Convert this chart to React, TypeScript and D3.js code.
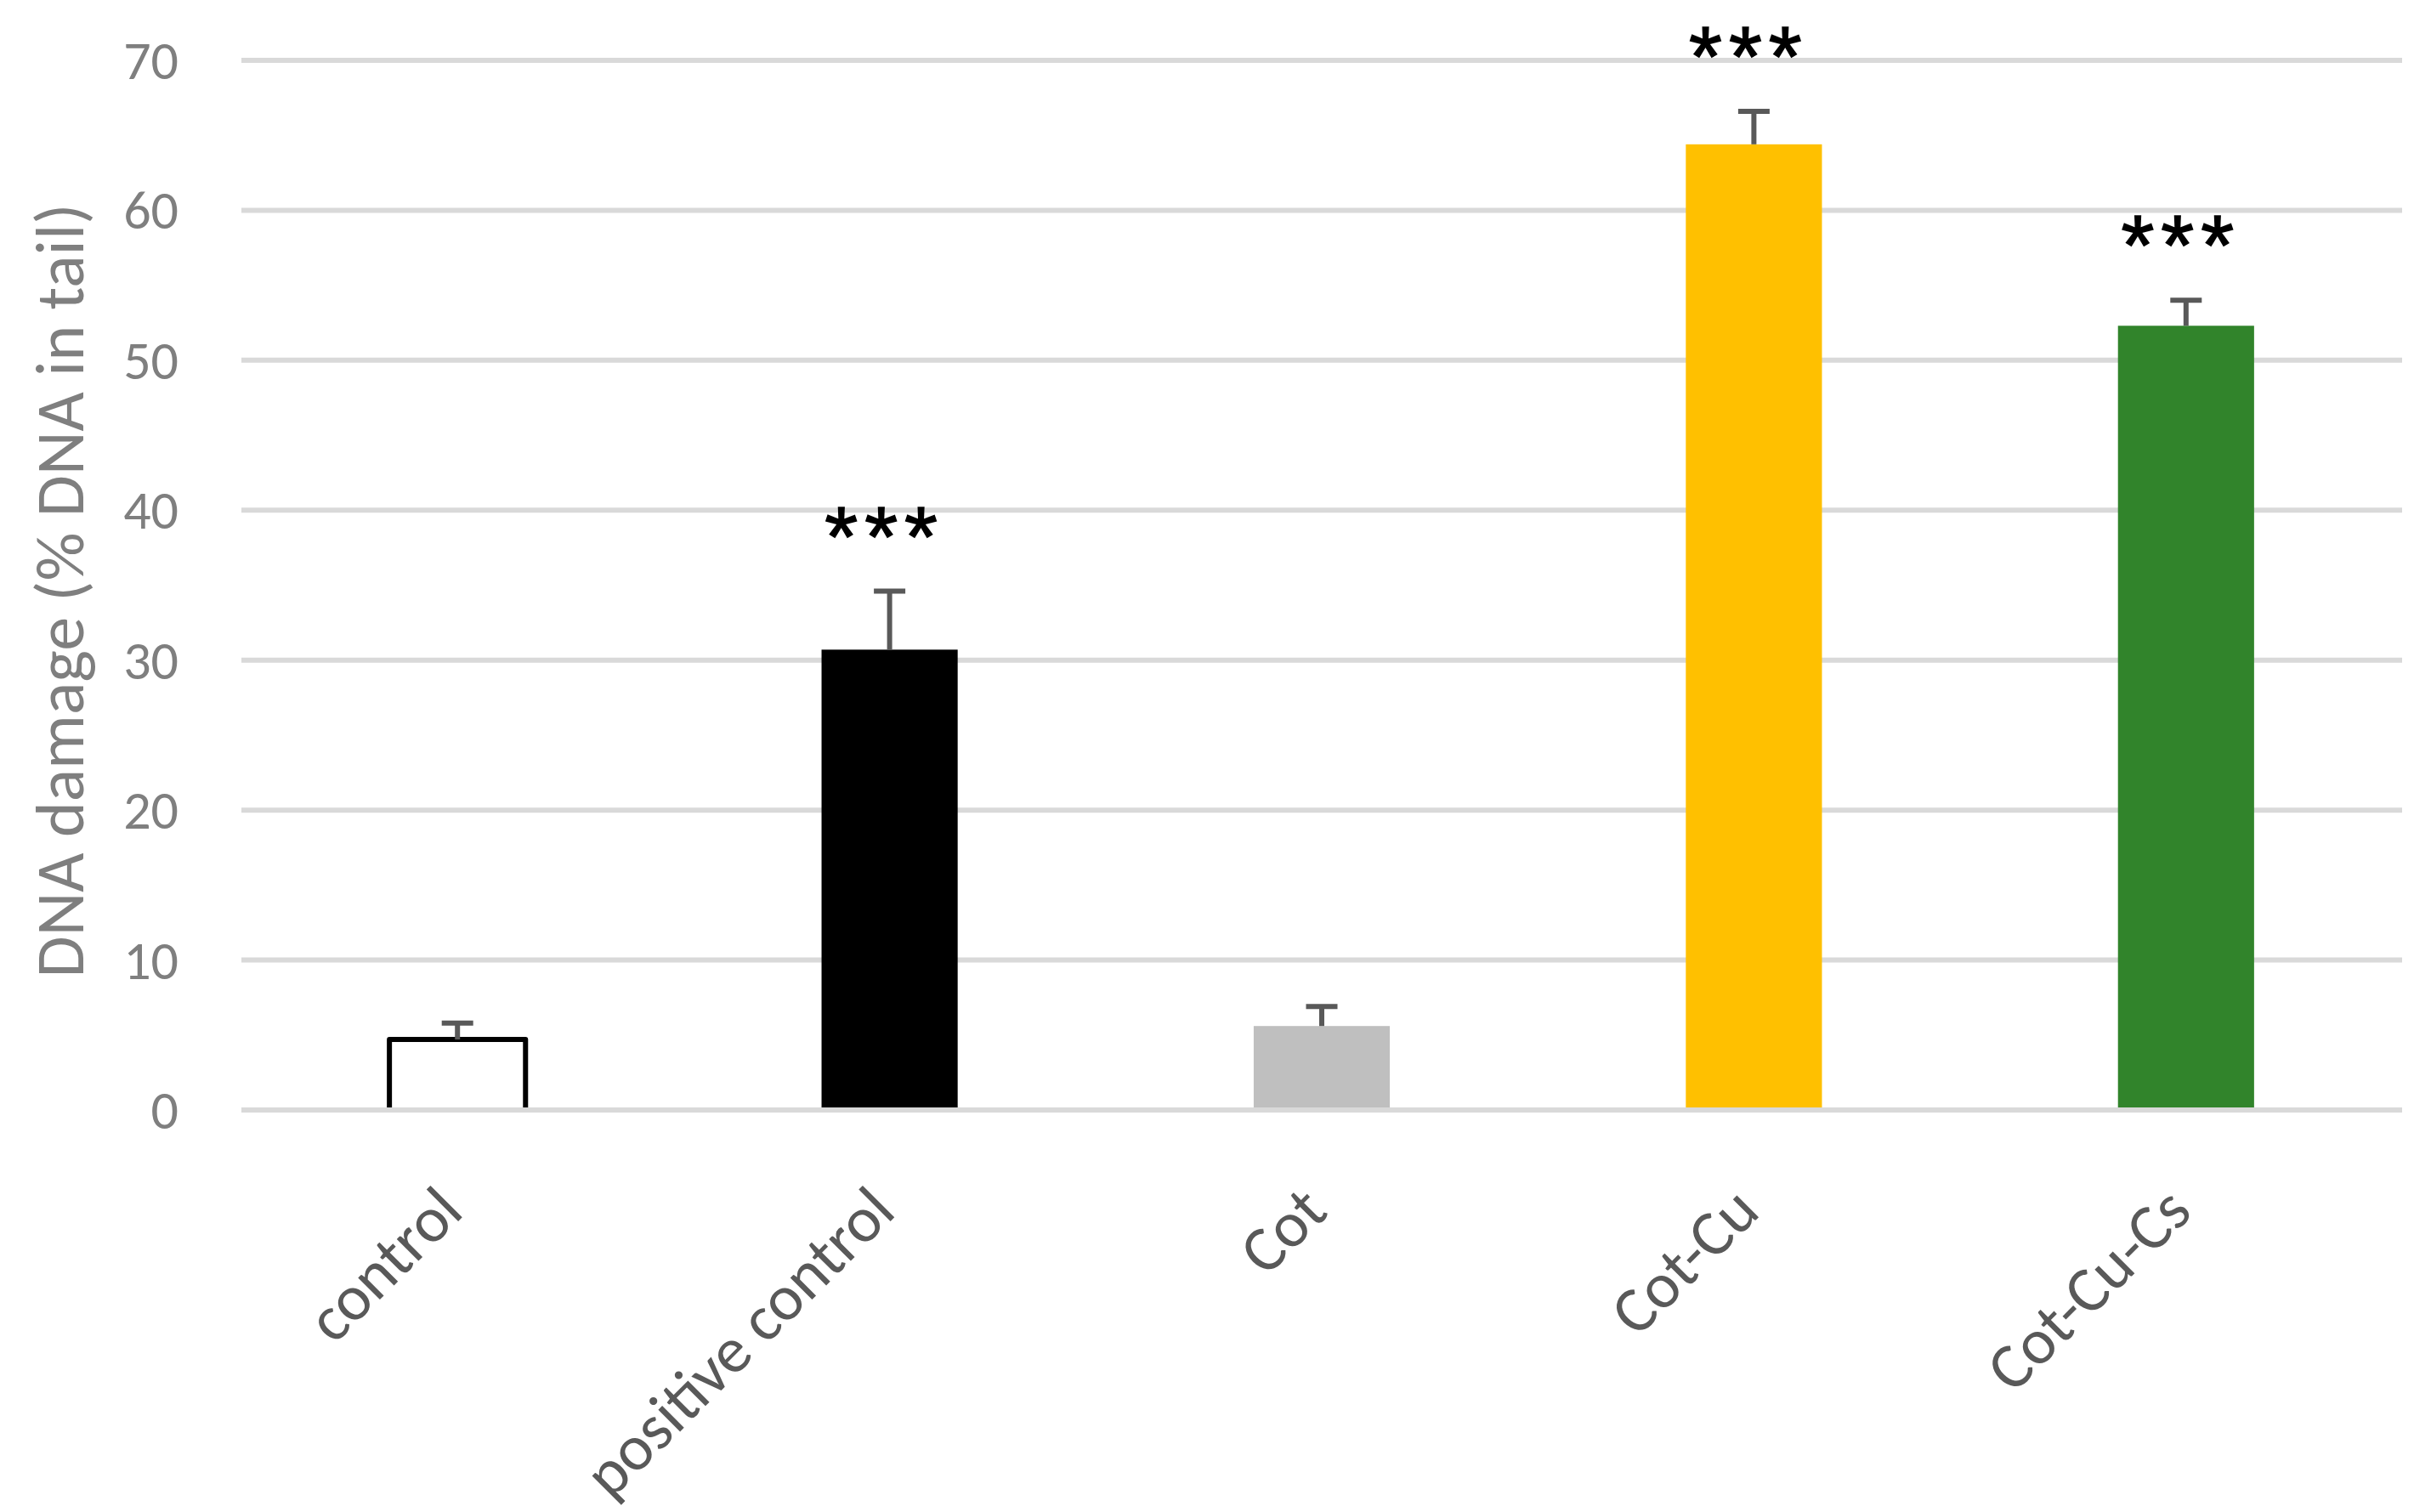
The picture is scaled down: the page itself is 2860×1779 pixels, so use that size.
import React from 'react';
import * as d3 from 'd3';

const categories = ['control', 'positive control', 'Cot', 'Cot-Cu', 'Cot-Cu-Cs'];
const means = [4.7, 30.7, 5.6, 64.4, 52.3];
const errors = [1.1, 3.9, 1.3, 2.2, 1.7];
const significance = ['', '***', '', '***', '***'];
const barColors = ['#ffffff', '#000000', '#bfbfbf', '#ffc000', '#31842b'];
const yTicks = [0, 10, 20, 30, 40, 50, 60, 70];
const yTitle = 'DNA damage (% DNA in tail)';

const W = 2860;
const H = 1779;
const FONT = 'Carlito, Calibri, Lato, sans-serif';

export default function App() {
  const x = d3.scaleBand<string>()
    .domain(categories)
    .range([284, 2826])
    .paddingInner(0.685)
    .paddingOuter(0.3425);
  const y = d3.scaleLinear().domain([0, 70]).range([1306, 71]);
  const bw = x.bandwidth();

  return (
    <svg width={W} height={H} style={{ position: 'absolute', left: 0, top: 0, background: '#fff' }}>
      {/* grid */}
      {yTicks.filter(t => t > 0).map(t => (
        <line key={t} x1={284} x2={2826} y1={y(t)} y2={y(t)} stroke="#d9d9d9" strokeWidth={6} />
      ))}
      {yTicks.map(t => (
        <text key={'l' + t} x={210} y={y(t)} textAnchor="end" dominantBaseline="central"
          fontFamily={FONT} fontSize={64} fill="#7f7f7f">{t}</text>
      ))}

      {/* bars */}
      {categories.map((c, i) => {
        const x0 = x(c)!;
        const outlined = i === 0;
        return (
          <rect key={c} x={x0} y={y(means[i])} width={bw} height={y(0) - y(means[i])}
            fill={barColors[i]} stroke={outlined ? '#000' : 'none'} strokeWidth={outlined ? 6 : 0}
            strokeLinejoin="round" />
        );
      })}

      {/* error bars */}
      {categories.map((c, i) => {
        const cx = x(c)! + bw / 2;
        const top = y(means[i] + errors[i]);
        return (
          <g key={'e' + c} stroke="#595959" strokeWidth={6}>
            <line x1={cx} x2={cx} y1={y(means[i])} y2={top} />
            <line x1={cx - 18.5} x2={cx + 18.5} y1={top} y2={top} />
          </g>
        );
      })}

      {/* zero line on top */}
      <line x1={284} x2={2826} y1={y(0)} y2={y(0)} stroke="#d9d9d9" strokeWidth={6} />

      {/* significance */}
      {categories.map((c, i) => significance[i] ? (
        <text key={'s' + c} x={x(c)! + bw / 2 - 6} y={y(means[i] + errors[i]) - 30}
          textAnchor="middle" fontFamily="'Liberation Sans', Arial, sans-serif" fontSize={100}
          letterSpacing={8} stroke="#000" strokeWidth={1.5} fill="#000">{significance[i]}</text>
      ) : null)}

      {/* category labels */}
      {categories.map(c => {
        const cx = x(c)! + bw / 2;
        return (
          <text key={'c' + c} transform={`translate(${cx - 9},${1410}) rotate(-45)`}
            textAnchor="end" dominantBaseline="central" fontFamily={FONT} fontSize={76}
            fill="#595959">{c}</text>
        );
      })}

      {/* y title */}
      <text transform={`translate(70,695) rotate(-90)`} textAnchor="middle" dominantBaseline="central"
        fontFamily={FONT} fontSize={80} fill="#7f7f7f">{yTitle}</text>
    </svg>
  );
}
